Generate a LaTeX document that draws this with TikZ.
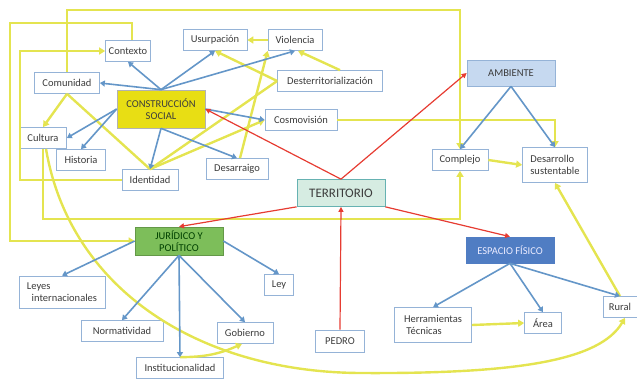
\documentclass[tikz,border=0pt]{standalone}
\usepackage{fontspec}
\setmainfont{Carlito}
\usetikzlibrary{arrows.meta}
\definecolor{bordeazul}{RGB}{149,179,215}
\definecolor{textogris}{RGB}{60,60,60}
\definecolor{amarillo}{RGB}{228,228,80}
\definecolor{azul}{RGB}{100,150,200}
\definecolor{rojo}{RGB}{230,60,50}
\definecolor{amarcs}{RGB}{232,222,20}
\definecolor{verdejur}{RGB}{125,190,90}
\definecolor{azulesp}{RGB}{80,125,195}
\definecolor{azulamb}{RGB}{198,217,240}
\definecolor{verdeter}{RGB}{214,236,226}
\begin{document}
\begin{tikzpicture}[x=1pt, y=-1pt,
    caja/.style={draw=bordeazul, line width=0.7pt, fill=white, text=textogris,
      minimum height=21pt, inner sep=2pt, font=\fontsize{10.5}{11.5}\selectfont},
    cajagrande/.style={caja, minimum width=88pt},
    lineaam/.style={draw=amarillo, line width=2.4pt},
    flechaam/.style={lineaam, -{Triangle[length=6pt,width=7pt]}},
    flechaaz/.style={draw=azul, line width=1.6pt, -{Triangle[length=5pt,width=6pt]}},
    flecharo/.style={draw=rojo, line width=1.2pt, -{Triangle[length=5pt,width=5pt]}}]
    \useasboundingbox (0,0) rectangle (637,380);

    % construccion social
    \node[cajagrande, fill=amarcs, draw=gray!60, minimum height=38pt, align=center] (cs) at (161,109) {CONSTRUCCIÓN\\SOCIAL};
    \node[caja, minimum width=45pt] (contexto) at (128,51) {Contexto};
    \node[caja, minimum width=64pt] (usurpacion) at (215,40) {Usurpación};
    \node[caja, minimum width=54pt] (violencia) at (295,40) {Violencia};
    \node[caja, minimum width=105pt] (desterr) at (330,81) {Desterritorialización};
    \node[caja, minimum width=65pt] (comunidad) at (67,83) {Comunidad};
    \node[caja, minimum width=72pt] (cosmovision) at (301,120) {Cosmovisión};
    \node[caja, minimum width=47pt] (cultura) at (43,138) {Cultura};
    \node[caja, minimum width=49pt] (historia) at (81,160) {Historia};
    \node[caja, minimum width=56pt] (identidad) at (150,180) {Identidad};
    \node[caja, minimum width=62pt] (desarraigo) at (237,169) {Desarraigo};

    \node[cajagrande, fill=verdeter, draw=teal!60, minimum height=27pt, font=\fontsize{13}{14}\selectfont] (territorio) at (341,193) {TERRITORIO};
    \node[caja, minimum width=49pt, minimum height=22pt] (pedro) at (340,341) {PEDRO};

    % ambiente
    \node[cajagrande, fill=azulamb, minimum height=26pt] (ambiente) at (511,73) {AMBIENTE};
    \node[caja, minimum width=56pt] (complejo) at (460,160) {Complejo};
    \node[caja, minimum width=65pt, minimum height=35pt, align=left] (desarrollo) at (555,165) {Desarrollo\\sustentable};

    % juridico
    \node[cajagrande, fill=verdejur, draw=verdejur!80!black, text=green!25!black, minimum height=28pt, align=center] (juridico) at (179,241) {JURÍDICO Y\\POLÍTICO};
    \node[caja, minimum width=86pt, minimum height=32pt, align=left] (leyes) at (62,292) {Leyes\\\ \ internacionales};
    \node[caja, minimum width=82pt] (normatividad) at (122,331) {Normatividad};
    \node[caja, minimum width=87pt] (institucionalidad) at (180,368) {Institucionalidad};
    \node[caja, minimum width=56pt] (gobierno) at (245,333) {Gobierno};
    \node[caja, minimum width=29pt] (ley) at (279,285) {Ley};

    % espacio fisico
    \node[cajagrande, fill=azulesp, draw=azulesp, text=blue!8, minimum height=26pt] (espacio) at (510,250) {ESPACIO FÍSICO};
    \node[caja, minimum width=77pt, minimum height=35pt, align=left] (herramientas) at (433,325) {Herramientas\\\ Técnicas};
    \node[caja, minimum width=37pt] (area) at (543,323) {Área};
    \node[caja, minimum width=34pt] (rural) at (620,307) {Rural};

    % lineas amarillas
    \coordinate (esq1) at (10,23);
    \coordinate (esq2) at (20,51);
    \coordinate (bajo) at (360,373);
    \draw[flechaam] (comunidad.north) -- ++(0,-62) -| (complejo.north);
    \draw[flechaam] ([xshift=4pt]contexto.north) |- (esq1) |- (juridico.west);
    \draw[flechaam] (identidad.west) -| (esq2) -- (contexto.west);
    \draw[flechaam] (cultura.south) -- ++(0,70) -| (complejo.south);
    \draw[flechaam] ([xshift=3pt]cultura.south) .. controls (70,290) and (200,372) .. (bajo)
        .. controls (520,374) and (600,360) .. ([xshift=5pt]rural.south);
    \draw[lineaam] (identidad.north) -- (comunidad.south);
    \draw[flechaam] (comunidad.south) -- (cultura.north);
    \draw[flechaam] (identidad.north) -- (cosmovision.west);
    \draw[lineaam] (identidad.north) -- (desterr.west);
    \draw[flechaam] (desterr.west) -- (usurpacion.south);
    \draw[flechaam] ([xshift=3pt]desarraigo.north) -- (violencia.south west);
    \draw[flechaam] (violencia.west) -- (usurpacion.east);
    \draw[flechaam] ([xshift=10pt]desterr.north) -- ([xshift=3pt]violencia.south);
    \draw[flechaam] (cosmovision.east) -| (desarrollo.north);
    \draw[flechaam] (complejo.east) -- (desarrollo.west);
    \draw[flechaam] (rural.north) -- (desarrollo.south);
    \draw[flechaam] (herramientas.east) -- (area.west);
    \draw[flechaam] (institucionalidad.north) to[bend right=12] ([xshift=-3pt]gobierno.south);

    % flechas azules
    \draw[flechaaz] (cs.north) -- (contexto.south);
    \draw[flechaaz] (cs.north) -- (comunidad.east);
    \draw[flechaaz] (cs.north) -- (usurpacion.south);
    \draw[flechaaz] (cs.north) -- (violencia.south);
    \draw[flechaaz] (cs.west) -- (cultura.east);
    \draw[flechaaz] (cs.west) -- (historia.north);
    \draw[flechaaz] (cs.south) -- (identidad.north);
    \draw[flechaaz] (cs.south) -- (desarraigo.north);
    \draw[flechaaz] (cs.east) -- (cosmovision.west);
    \draw[flechaaz] (ambiente.south) -- (complejo.north);
    \draw[flechaaz] (ambiente.south) -- (desarrollo.north);
    \draw[flechaaz] (juridico.west) -- (leyes.north);
    \draw[flechaaz] (juridico.south) -- (normatividad.north);
    \draw[flechaaz] (juridico.south) -- (institucionalidad.north);
    \draw[flechaaz] (juridico.south) -- (gobierno.north);
    \draw[flechaaz] (juridico.east) -- (ley.north);
    \draw[flechaaz] (espacio.south) -- (herramientas.north);
    \draw[flechaaz] (espacio.south) -- (area.north);
    \draw[flechaaz] (espacio.south) -- (rural.north);

    % flechas rojas
    \draw[flecharo] (territorio.north) -- (cs.east);
    \draw[flecharo] (territorio.north) -- (ambiente.west);
    \draw[flecharo] (territorio.south west) -- (juridico.north);
    \draw[flecharo] (territorio.south east) -- (espacio.north);
    \draw[flecharo] (pedro.north) -- (territorio.south);
  \end{tikzpicture}
\end{document}
